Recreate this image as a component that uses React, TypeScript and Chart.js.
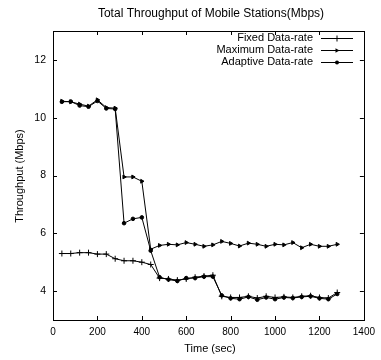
import React, { useEffect, useRef } from "react";
import { Chart, registerables } from "chart.js";

Chart.register(...registerables);

const chartTitle = "Total Throughput of Mobile Stations(Mbps)";
const xTitle = "Time (sec)";
const yTitle = "Throughput (Mbps)";
const seriesNames = ["Fixed Data-rate", "Maximum Data-rate", "Adaptive Data-rate"];

const times = [40, 80, 120, 160, 200, 240, 280, 320, 360, 400, 440, 480, 520, 560, 600, 640, 680, 720, 760, 800, 840, 880, 920, 960, 1000, 1040, 1080, 1120, 1160, 1200, 1240, 1280];

const fixedRate = [5.3, 5.3, 5.33, 5.33, 5.28, 5.28, 5.12, 5.05, 5.05, 5.0, 4.92, 4.45, 4.42, 4.38, 4.42, 4.48, 4.52, 4.55, 3.82, 3.78, 3.78, 3.82, 3.76, 3.82, 3.78, 3.8, 3.78, 3.82, 3.84, 3.78, 3.76, 3.95];
const maxRate = [10.57, 10.55, 10.47, 10.4, 10.62, 10.35, 10.33, 7.95, 7.95, 7.8, 5.45, 5.58, 5.62, 5.6, 5.68, 5.62, 5.55, 5.6, 5.72, 5.65, 5.56, 5.66, 5.62, 5.55, 5.62, 5.6, 5.68, 5.5, 5.62, 5.55, 5.55, 5.62];
const adaptiveRate = [10.55, 10.56, 10.42, 10.38, 10.58, 10.32, 10.3, 6.35, 6.5, 6.55, 5.4, 4.48, 4.4, 4.35, 4.45, 4.45, 4.5, 4.5, 3.85, 3.75, 3.72, 3.8, 3.7, 3.78, 3.72, 3.78, 3.76, 3.8, 3.82, 3.75, 3.72, 3.9];

const xTicks = [0, 200, 400, 600, 800, 1000, 1200, 1400];
const yTicks = [4, 6, 8, 10, 12];

const FONT = '"Liberation Sans", Arial, sans-serif';

function drawMarker(ctx: CanvasRenderingContext2D, kind: number, x: number, y: number) {
  ctx.save();
  ctx.strokeStyle = "#000";
  ctx.fillStyle = "#000";
  ctx.lineWidth = 1;
  ctx.beginPath();
  if (kind === 0) {
    ctx.moveTo(x - 3, y);
    ctx.lineTo(x + 3, y);
    ctx.moveTo(x, y - 3);
    ctx.lineTo(x, y + 3);
    ctx.stroke();
  } else if (kind === 1) {
    ctx.moveTo(x + 2.5, y);
    ctx.lineTo(x - 1.5, y - 2.3);
    ctx.lineTo(x - 1.5, y + 2.3);
    ctx.closePath();
    ctx.fill();
  } else {
    ctx.arc(x, y, 2, 0, Math.PI * 2);
    ctx.fill();
  }
  ctx.restore();
}

const decorPlugin = {
  id: "decor",
  afterDraw(chart: any) {
    const ctx: CanvasRenderingContext2D = chart.ctx;
    const { left, right, top, bottom } = chart.chartArea;
    const xs = chart.scales.x;
    const ys = chart.scales.y;
    ctx.save();
    ctx.strokeStyle = "#000";
    ctx.lineWidth = 1;
    ctx.strokeRect(Math.round(left) + 0.5, Math.round(top) + 0.5, Math.round(right - left), Math.round(bottom - top));
    ctx.beginPath();
    for (const v of xTicks) {
      const px = Math.round(xs.getPixelForValue(v)) + 0.5;
      ctx.moveTo(px, bottom);
      ctx.lineTo(px, bottom - 4);
      ctx.moveTo(px, top);
      ctx.lineTo(px, top + 4);
    }
    for (const v of yTicks) {
      const py = Math.round(ys.getPixelForValue(v)) + 0.5;
      ctx.moveTo(left, py);
      ctx.lineTo(left + 4, py);
      ctx.moveTo(right, py);
      ctx.lineTo(right - 4, py);
    }
    ctx.stroke();

    ctx.fillStyle = "#000";
    ctx.font = `12px ${FONT}`;
    ctx.textAlign = "center";
    ctx.textBaseline = "middle";
    ctx.fillText(chartTitle, 211, 14);
    ctx.font = `11px ${FONT}`;
    ctx.fillText(xTitle, 210, 349);
    ctx.save();
    ctx.translate(20, 176);
    ctx.rotate(-Math.PI / 2);
    ctx.fillText(yTitle, 0, 0);
    ctx.restore();

    ctx.font = `11px ${FONT}`;
    ctx.textAlign = "right";
    for (let i = 0; i < seriesNames.length; i++) {
      const ly = 38 + 12 * i;
      ctx.fillText(seriesNames[i], 313, ly);
      ctx.beginPath();
      ctx.moveTo(321, Math.round(ly) + 0.5);
      ctx.lineTo(353, Math.round(ly) + 0.5);
      ctx.stroke();
      drawMarker(ctx, i, 337, Math.round(ly) + 0.5);
    }
    ctx.restore();
  },
};

export default function App() {
  const ref = useRef<HTMLCanvasElement | null>(null);
  useEffect(() => {
    document.body.style.margin = "0";
    const canvas = ref.current;
    if (!canvas) return;
    const mk = (arr: number[]) => times.map((t, i) => ({ x: t, y: arr[i] }));
    const chart = new Chart(canvas, {
      type: "line",
      data: {
        datasets: [
          {
            label: seriesNames[0],
            data: mk(fixedRate),
            borderColor: "#000",
            backgroundColor: "#000",
            borderWidth: 1,
            pointStyle: "cross",
            pointRadius: 3,
            pointBorderWidth: 1,
            tension: 0,
          },
          {
            label: seriesNames[1],
            data: mk(maxRate),
            borderColor: "#000",
            backgroundColor: "#000",
            borderWidth: 1,
            pointStyle: "triangle",
            rotation: 90,
            pointRadius: 2.2,
            pointBorderWidth: 1,
            tension: 0,
          },
          {
            label: seriesNames[2],
            data: mk(adaptiveRate),
            borderColor: "#000",
            backgroundColor: "#000",
            borderWidth: 1,
            pointStyle: "circle",
            pointRadius: 1.8,
            pointBorderWidth: 1,
            tension: 0,
          },
        ],
      },
      options: {
        responsive: false,
        animation: false,
        layout: { padding: { top: 31, right: 13, left: 0, bottom: 0 } },
        plugins: {
          legend: { display: false },
          title: { display: false },
          tooltip: { enabled: false },
        },
        scales: {
          x: {
            type: "linear",
            min: 0,
            max: 1400,
            afterBuildTicks: (s: any) => {
              s.ticks = xTicks.map((v) => ({ value: v }));
            },
            afterFit: (s: any) => {
              s.height = 40;
            },
            grid: { display: false, drawTicks: false },
            border: { display: false },
            ticks: {
              padding: 6,
              color: "#000",
              font: { family: FONT, size: 10 },
              maxRotation: 0,
              autoSkip: false,
              callback: (v: any) => String(v),
            },
          },
          y: {
            type: "linear",
            min: 3,
            max: 13,
            afterBuildTicks: (s: any) => {
              s.ticks = yTicks.map((v) => ({ value: v }));
            },
            afterFit: (s: any) => {
              s.width = 53;
            },
            grid: { display: false, drawTicks: false },
            border: { display: false },
            ticks: {
              padding: 7,
              color: "#000",
              font: { family: FONT, size: 10.5 },
              autoSkip: false,
              callback: (v: any) => String(v),
            },
          },
        },
      },
      plugins: [decorPlugin],
    });
    return () => chart.destroy();
  }, []);
  return (
    <div style={{ position: "absolute", left: 0, top: 0, width: 381, height: 360, background: "#fff" }}>
      <canvas ref={ref} width={381} height={360} style={{ display: "block" }} />
    </div>
  );
}
